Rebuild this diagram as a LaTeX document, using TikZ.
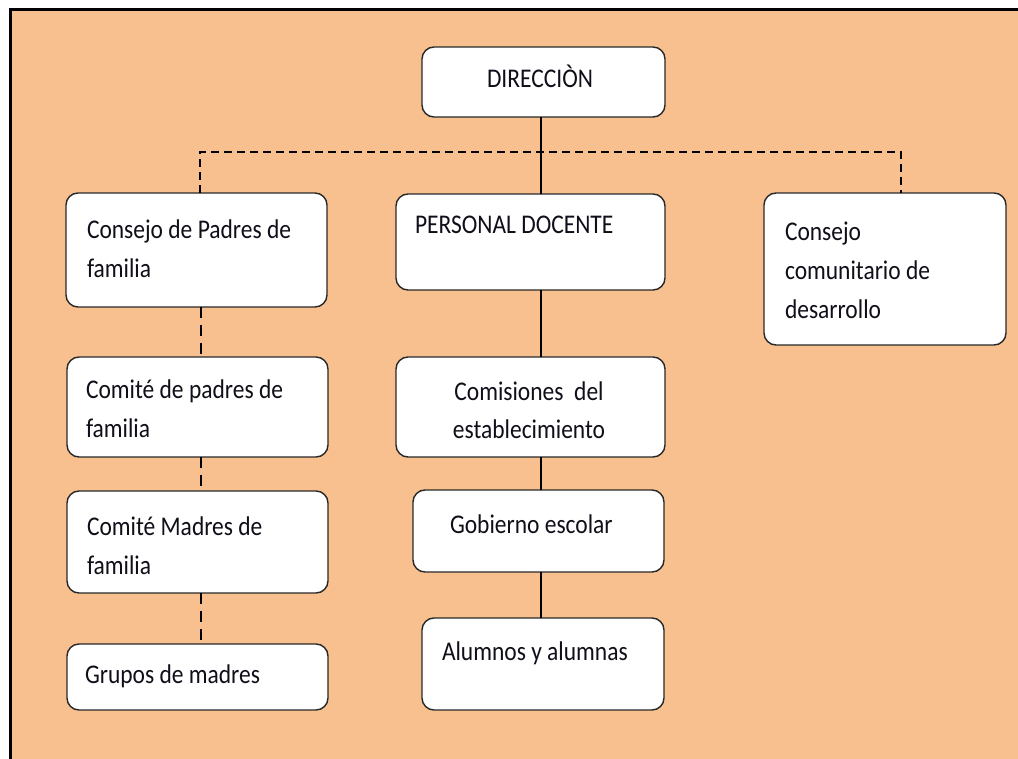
\documentclass[tikz,border=0pt]{standalone}
\usepackage{fontspec}
\setmainfont{Carlito}[FakeStretch=0.87]
\definecolor{bgorange}{RGB}{249,192,143}
\definecolor{boxline}{RGB}{40,40,40}
\definecolor{txt}{RGB}{15,15,25}
\begin{document}
\begin{tikzpicture}[x=1pt,y=-1pt,
  box/.style={draw=boxline,line width=1.4pt,fill=white,rounded corners=12pt,inner sep=0pt,outer sep=0pt},
  lbl/.style={inner sep=0pt,outer sep=0pt,text=txt,font=\fontsize{27}{39}\selectfont},
  solidlink/.style={draw=black,line width=1.3pt},
  dashlink/.style={draw=black,line width=1.3pt,dash pattern=on 8pt off 5pt},
  vdashlink/.style={draw=black,line width=1.3pt,dash pattern=on 11pt off 7pt}]
\useasboundingbox (0,0) rectangle (1018,759);
\fill[bgorange] (10,10) rectangle (1018,759);
\draw[line width=3pt,black] (10,759) -- (10,10) -- (1018,10);

% boxes
\node[box,minimum width=243pt,minimum height=70pt] (dir) at (543.5,82) {};
\node[box,minimum width=261pt,minimum height=114pt] (cpf) at (196.5,250) {};
\node[box,minimum width=269pt,minimum height=96pt] (pd) at (530.5,242) {};
\node[box,minimum width=242pt,minimum height=152pt] (ccd) at (885,269) {};
\node[box,minimum width=261pt,minimum height=100pt] (cpa) at (197.5,407) {};
\node[box,minimum width=269pt,minimum height=100pt] (com) at (530.5,407) {};
\node[box,minimum width=261pt,minimum height=102pt] (cma) at (197.5,542) {};
\node[box,minimum width=251pt,minimum height=82pt] (gob) at (538.5,531) {};
\node[box,minimum width=261pt,minimum height=66pt] (gru) at (197.5,677) {};
\node[box,minimum width=242pt,minimum height=92pt] (alu) at (543,664) {};

% texts
\node[lbl,anchor=base] (tdir) at (540,88) {DIRECCIÒN};
\node[lbl,anchor=base west] (tcpf) at (87,239) {\begin{tabular}[t]{@{}l@{}}Consejo de Padres de\\familia\end{tabular}};
\node[lbl,anchor=base west] (tpd) at (415,234) {PERSONAL DOCENTE};
\node[lbl,anchor=base west] (tccd) at (785,241) {\begin{tabular}[t]{@{}l@{}}Consejo\\comunitario de\\desarrollo\end{tabular}};
\node[lbl,anchor=base west] (tcpa) at (86,399) {\begin{tabular}[t]{@{}l@{}}Comité de padres de\\familia\end{tabular}};
\node[lbl,anchor=base] (tcom) at (529,400) {\begin{tabular}[t]{@{}c@{}}Comisiones\ \ del\\establecimiento\end{tabular}};
\node[lbl,anchor=base west] (tcma) at (87,535) {\begin{tabular}[t]{@{}l@{}}Comité Madres de\\familia\end{tabular}};
\node[lbl,anchor=base west] (tgru) at (85,683) {Grupos de madres};
\node[lbl,anchor=base west] (tgob) at (450,533) {Gobierno escolar};
\node[lbl,anchor=base west] (talu) at (442,660) {Alumnos y alumnas};

% connector guides
\coordinate (spine) at (541,0);
\coordinate (lbus) at (200,152);
\coordinate (rbus) at (901,152);
\coordinate (lcol) at (201,0);

% solid connectors
\draw[solidlink] (dir.south -| spine) -- (pd.north -| spine);
\draw[solidlink] (pd.south -| spine) -- (com.north -| spine);
\draw[solidlink] (com.south -| spine) -- (gob.north -| spine);
\draw[solidlink] (gob.south -| spine) -- (alu.north -| spine);

% dashed connectors
\draw[dashlink] (cpf.north -| lbus) -- (lbus) -- (rbus) -- (ccd.north -| rbus);
\draw[vdashlink] (cpf.south -| lcol) -- (cpa.north -| lcol);
\draw[vdashlink] (cpa.south -| lcol) -- (cma.north -| lcol);
\draw[vdashlink] (cma.south -| lcol) -- (gru.north -| lcol);
\end{tikzpicture}
\end{document}
